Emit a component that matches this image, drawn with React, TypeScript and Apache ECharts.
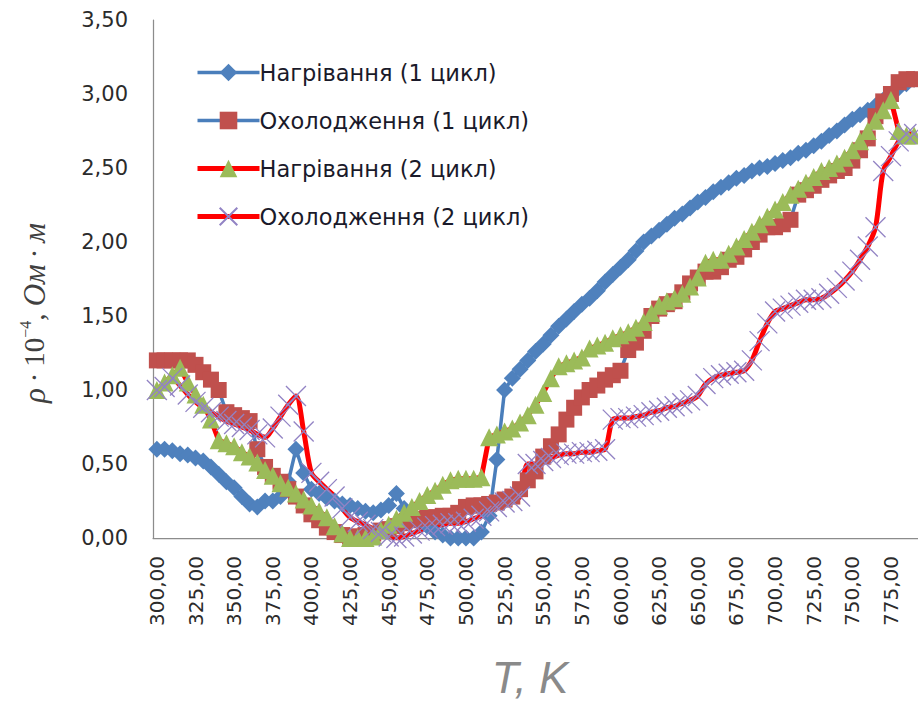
import React, { useEffect, useRef } from 'react';
import * as echarts from 'echarts';

const temperatures = [
  '300', '305', '310', '315', '320', '325', '330', '335', '340', '345',
  '350', '355', '360', '365', '370', '375', '380', '385', '390', '395',
  '400', '405', '410', '415', '420', '425', '430', '435', '440', '445',
  '450', '455', '460', '465', '470', '475', '480', '485', '490', '495',
  '500', '505', '510', '515', '520', '525', '530', '535', '540', '545',
  '550', '555', '560', '565', '570', '575', '580', '585', '590', '595',
  '600', '605', '610', '615', '620', '625', '630', '635', '640', '645',
  '650', '655', '660', '665', '670', '675', '680', '685', '690', '695',
  '700', '705', '710', '715', '720', '725', '730', '735', '740', '745',
  '750', '755', '760', '765', '770', '775', '780', '785', '790',
];

const heating1 = [
  0.60, 0.60, 0.59, 0.57, 0.56, 0.54, 0.52, 0.48, 0.43, 0.38,
  0.34, 0.28, 0.23, 0.21, 0.25, 0.25, 0.28, 0.38, 0.60, 0.44,
  0.33, 0.30, 0.27, 0.25, 0.23, 0.22, 0.20, 0.18, 0.17, 0.19,
  0.22, 0.30, 0.20, 0.16, 0.12, 0.08, 0.04, 0.02, 0.00, 0.00,
  0.00, 0.00, 0.04, 0.15, 0.53, 1.00, 1.08, 1.14, 1.20, 1.26,
  1.31, 1.37, 1.43, 1.48, 1.53, 1.58, 1.62, 1.67, 1.73, 1.78,
  1.83, 1.88, 1.94, 2.00, 2.04, 2.08, 2.12, 2.16, 2.19, 2.23,
  2.27, 2.30, 2.34, 2.37, 2.40, 2.43, 2.45, 2.48, 2.50, 2.51,
  2.53, 2.55, 2.57, 2.60, 2.62, 2.65, 2.68, 2.72, 2.75, 2.79,
  2.83, 2.86, 2.89, 2.92, 2.96, 3.00, 3.04, 3.07, 3.10,
];

const cooling1 = [
  1.20, 1.20, 1.20, 1.20, 1.20, 1.17, 1.12, 1.07, 1.00, 0.85,
  0.83, 0.81, 0.79, 0.60, 0.48, 0.42, 0.38, 0.33, 0.28, 0.22,
  0.16, 0.12, 0.07, 0.04, 0.02, 0.01, 0.01, 0.02, 0.03, 0.05,
  0.06, 0.08, 0.10, 0.12, 0.13, 0.14, 0.14, 0.15, 0.15, 0.17,
  0.21, 0.22, 0.22, 0.23, 0.24, 0.26, 0.28, 0.33, 0.39, 0.45,
  0.55, 0.62, 0.70, 0.80, 0.88, 0.95, 1.00, 1.03, 1.07, 1.10,
  1.13, 1.27, 1.32, 1.40, 1.50, 1.55, 1.58, 1.60, 1.66, 1.72,
  1.76, 1.80, 1.80, 1.83, 1.88, 1.90, 1.95, 2.00, 2.05, 2.10,
  2.10, 2.12, 2.15, 2.32, 2.35, 2.38, 2.42, 2.45, 2.48, 2.50,
  2.55, 2.62, 2.70, 2.85, 2.95, 3.00, 3.08, 3.10, 3.10,
];

const heating2 = [
  1.00, 1.05, 1.10, 1.15, 1.05, 0.97, 0.90, 0.80, 0.66, 0.64,
  0.62, 0.58, 0.55, 0.51, 0.46, 0.42, 0.37, 0.34, 0.30, 0.26,
  0.22, 0.18, 0.14, 0.08, 0.03, 0.00, 0.00, 0.00, 0.01, 0.05,
  0.09, 0.13, 0.17, 0.21, 0.25, 0.29, 0.32, 0.36, 0.39, 0.40,
  0.40, 0.40, 0.41, 0.68, 0.70, 0.72, 0.74, 0.78, 0.83, 0.90,
  0.98, 1.08, 1.16, 1.18, 1.20, 1.22, 1.28, 1.30, 1.32, 1.35,
  1.37, 1.39, 1.42, 1.46, 1.52, 1.57, 1.60, 1.62, 1.65, 1.70,
  1.76, 1.86, 1.88, 1.88, 1.92, 1.97, 2.02, 2.07, 2.12, 2.17,
  2.22, 2.27, 2.32, 2.36, 2.40, 2.44, 2.48, 2.50, 2.53, 2.57,
  2.62, 2.68, 2.75, 2.82, 2.89, 2.96, 2.75, 2.72, 2.72,
];

const cooling2 = [
  1.00, 1.02, 1.08, 1.03, 0.97, 0.92, 0.88, 0.85, 0.82, 0.79,
  0.77, 0.75, 0.73, 0.70, 0.68, 0.74, 0.82, 0.90, 0.96, 0.72,
  0.44, 0.38, 0.33, 0.28, 0.20, 0.14, 0.11, 0.09, 0.06, 0.04,
  0.01, 0.00, 0.01, 0.03, 0.05, 0.07, 0.08, 0.09, 0.10, 0.10,
  0.11, 0.13, 0.15, 0.18, 0.21, 0.24, 0.25, 0.28, 0.50, 0.50,
  0.52, 0.54, 0.56, 0.57, 0.57, 0.58, 0.58, 0.59, 0.60, 0.80,
  0.81, 0.81, 0.82, 0.83, 0.85, 0.86, 0.88, 0.89, 0.91, 0.93,
  0.96, 1.04, 1.08, 1.10, 1.11, 1.12, 1.13, 1.20, 1.33, 1.45,
  1.53, 1.55, 1.57, 1.59, 1.61, 1.61, 1.62, 1.65, 1.69, 1.74,
  1.80, 1.88, 1.97, 2.10, 2.48, 2.58, 2.68, 2.73, 2.73,
];

const seriesNames = [
  'Нагрівання (1 цикл)',
  'Охолодження (1 цикл)',
  'Нагрівання (2 цикл)',
  'Охолодження (2 цикл)',
];

export default function App() {
  const ref = useRef<HTMLDivElement>(null);

  useEffect(() => {
    document.body.style.margin = '0';
    const chart = echarts.init(ref.current as HTMLDivElement, null, { renderer: 'svg' });
    const blue = '#4a7ebb';
    const red = '#ff0000';
    chart.setOption({
      animation: false,
      backgroundColor: '#ffffff',
      grid: { left: 153, top: 20, bottom: 166, right: 0, containLabel: false },
      xAxis: {
        type: 'category',
        data: temperatures,
        boundaryGap: true,
        axisLine: { show: true, lineStyle: { color: '#8c8c8c', width: 1.25 } },
        axisTick: { show: false },
        splitLine: { show: false },
        axisLabel: {
          interval: 4,
          rotate: 90,
          margin: 18,
          fontSize: 20,
          fontFamily: 'DejaVu Sans',
          color: '#2b2b2b',
          formatter: (v: string) => v + ',00',
        },
      },
      yAxis: {
        type: 'value',
        min: 0,
        max: 3.5,
        interval: 0.5,
        axisLine: { show: true, lineStyle: { color: '#8c8c8c', width: 1.25 } },
        axisTick: { show: false },
        splitLine: { show: false },
        axisLabel: {
          margin: 25,
          fontSize: 21,
          fontFamily: 'DejaVu Sans',
          color: '#2b2b2b',
          formatter: (v: number) => v.toFixed(2).replace('.', ','),
        },
      },
      legend: {
        orient: 'vertical',
        left: 190,
        top: 56,
        itemWidth: 62,
        itemHeight: 22,
        itemGap: 25,
        data: seriesNames,
        lineStyle: { width: 'inherit' },
        textStyle: { fontSize: 22.5, fontFamily: 'DejaVu Sans', color: '#1a1a2a', padding: [0, 0, 0, -5] },
      },
      graphic: [
        {
          type: 'text',
          x: 34,
          y: 313,
          rotation: Math.PI / 2,
          style: {
            text: '{i|ρ}{u|\u2009·\u200910}{s|−4}{u|, }{i|Ом}{u|\u2009·\u2009}{i|м}',
            align: 'center',
            verticalAlign: 'middle',
            fill: '#404040',
            rich: {
              i: { fontFamily: 'Liberation Serif', fontStyle: 'italic', fontSize: 31, fill: '#404040', lineHeight: 34 },
              u: { fontFamily: 'Liberation Serif', fontSize: 29, fill: '#404040', lineHeight: 34 },
              s: { fontFamily: 'Liberation Serif', fontSize: 16, fill: '#404040', lineHeight: 34, verticalAlign: 'top' },
            },
          },
        },
        {
          type: 'text',
          x: 530,
          y: 677,
          style: {
            text: 'T, K',
            font: 'italic 44px "Liberation Sans"',
            fill: '#8a8a8a',
            align: 'center',
            verticalAlign: 'middle',
          },
        },
      ],
      series: [
        {
          name: seriesNames[0],
          type: 'line',
          data: heating1,
          showAllSymbol: true,
          symbol: 'diamond',
          symbolSize: 17,
          lineStyle: { color: blue, width: 3.5 },
          itemStyle: { color: '#4f81bd' },
        },
        {
          name: seriesNames[1],
          type: 'line',
          data: cooling1,
          showAllSymbol: true,
          symbol: 'rect',
          symbolSize: 16,
          lineStyle: { color: blue, width: 3.5 },
          itemStyle: { color: '#c0504d' },
        },
        {
          name: seriesNames[2],
          type: 'line',
          data: heating2,
          showAllSymbol: true,
          symbol: 'triangle',
          symbolSize: 18,
          lineStyle: { color: red, width: 5 },
          itemStyle: { color: '#9bbb59' },
        },
        {
          name: seriesNames[3],
          type: 'line',
          data: cooling2,
          showAllSymbol: true,
          smooth: 0.3,
          symbol: 'path://M0,0L10,10M10,0L0,10',
          symbolKeepAspect: true,
          symbolSize: 20,
          lineStyle: { color: red, width: 5 },
          itemStyle: { color: 'rgba(0,0,0,0)', borderColor: '#9283c4', borderWidth: 1.3 },
        },
      ],
    });
    return () => chart.dispose();
  }, []);

  return (
    <div
      ref={ref}
      style={{ position: 'fixed', left: 0, top: 0, width: 918, height: 704, background: '#ffffff' }}
    />
  );
}
